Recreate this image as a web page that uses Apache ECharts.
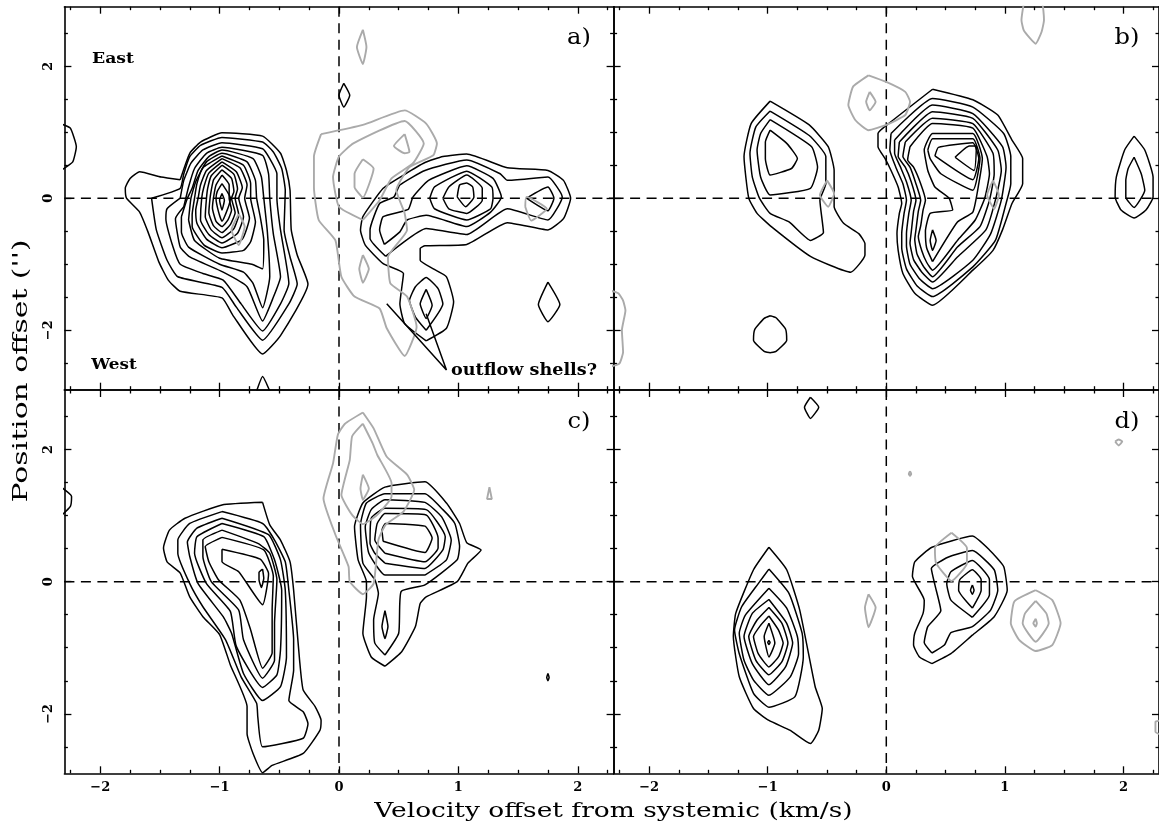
<!DOCTYPE html>
<html>
<head>
<meta charset="utf-8">
<title>Position-velocity contours</title>
<script src="https://cdn.jsdelivr.net/npm/echarts@6/dist/echarts.min.js"></script>
<style>
html, body { margin: 0; padding: 0; background: #fff; overflow: hidden; }
#chart { width: 1159px; height: 830px; }
</style>
</head>
<body>
<div id="chart"></div>
<script>
// tick positions
const xMajorTicks = [-2, -1, 0, 1, 2];
const xMinorTicks = [-2.25, -1.75, -1.5, -1.25, -0.75, -0.5, -0.25, 0.25, 0.5, 0.75, 1.25, 1.5, 1.75, 2.25];
const yMajorTicks = [-2, 0, 2];
const yMinorTicks = [-2.5, -1.5, -1, -0.5, 0.5, 1, 1.5, 2.5];

// contours are [velocity km/s, position arcsec]
const panelABlack = [
  [[-1.33,.28],[-1.49,.32],[-1.67,.40],[-1.75,.30],[-1.79,.15],[-1.78,0],[-1.67,-.21],[-1.60,-.51],[-1.51,-.96],[-1.43,-1.24],[-1.33,-1.41],[-.98,-1.51],[-.89,-1.77],[-.64,-2.36],[-.49,-2.08],[-.26,-1.30],[-.35,-.86],[-.40,-.48],[-.41,.12],[-.44,.42],[-.49,.68],[-.64,.94],[-.98,.99],[-1.16,.85],[-1.25,.68]],
  [[-1.57,0],[-1.33,.15],[-1.30,.37],[-1.25,.63],[-1.16,.80],[-.98,.92],[-.64,.85],[-.55,.70],[-.48,.45],[-.45,.12],[-.46,-.48],[-.41,-.89],[-.35,-1.30],[-.42,-1.60],[-.64,-2.15],[-.86,-1.65],[-.98,-1.35],[-1.35,-1.19],[-1.44,-.94],[-1.53,-.48]],
  [[-1.33,0],[-1.44,-.16],[-1.45,-.31],[-1.39,-.74],[-1.33,-1.0],[-1.14,-1.14],[-.97,-1.24],[-.82,-1.6],[-.64,-2.01],[-.49,-1.6],[-.42,-1.29],[-.49,-.48],[-.52,0],[-.52,.37],[-.58,.60],[-.64,.75],[-.98,.84],[-1.14,.73],[-1.24,.53],[-1.30,.27]],
  [[-1.30,-.13],[-1.37,-.31],[-1.33,-.74],[-1.25,-.89],[-.97,-1.12],[-.77,-1.34],[-.64,-1.86],[-.55,-1.5],[-.49,-1.19],[-.55,-.54],[-.58,0],[-.59,.37],[-.64,.65],[-.98,.77],[-1.11,.68],[-1.21,.45],[-1.26,.17]],
  [[-1.32,-.28],[-1.32,-.51],[-1.26,-.74],[-1.0,-1.0],[-.80,-1.12],[-.72,-1.29],[-.64,-1.66],[-.58,-1.19],[-.60,-.51],[-.63,0],[-.65,.32],[-.72,.6],[-.98,.73],[-1.09,.63],[-1.18,.42],[-1.23,.15],[-1.27,0]],
  [[-1.26,-.33],[-1.21,-.64],[-1.0,-.91],[-.73,-1.0],[-.64,-1.07],[-.63,-.64],[-.66,-.28],[-.69,0],[-.70,.27],[-.77,.55],[-.98,.68],[-1.11,.55],[-1.20,.25],[-1.24,0]],
  [[-.98,.64],[-.80,.50],[-.74,.22],[-.74,0],[-.70,-.36],[-.74,-.66],[-.80,-.79],[-.98,-.83],[-1.13,-.71],[-1.23,-.43],[-1.23,-.25],[-1.21,0],[-1.19,.22],[-1.14,.46]],
  [[-.98,.60],[-.83,.46],[-.77,.2],[-.79,0],[-.75,-.3],[-.81,-.62],[-.98,-.75],[-1.11,-.62],[-1.19,-.38],[-1.20,-.18],[-1.18,0],[-1.16,.2],[-1.11,.42]],
  [[-.98,.55],[-.86,.40],[-.81,.16],[-.84,0],[-.80,-.28],[-.85,-.53],[-.98,-.68],[-1.09,-.55],[-1.16,-.33],[-1.15,0],[-1.13,.18],[-1.09,.38]],
  [[-.98,.50],[-.88,.36],[-.85,.14],[-.87,0],[-.84,-.25],[-.88,-.46],[-.98,-.60],[-1.07,-.48],[-1.12,-.28],[-1.11,0],[-1.10,.15],[-1.07,.34]],
  [[-.98,.43],[-.90,.30],[-.88,.1],[-.90,0],[-.87,-.22],[-.91,-.40],[-.98,-.52],[-1.05,-.42],[-1.09,-.22],[-1.08,0],[-1.07,.12],[-1.05,.28]],
  [[-.98,.35],[-.92,.2],[-.92,0],[-.90,-.18],[-.93,-.33],[-.98,-.43],[-1.03,-.35],[-1.06,-.15],[-1.05,.02],[-1.03,.2]],
  [[-.98,.22],[-.93,.08],[-.91,0],[-.93,-.15],[-.98,-.35],[-1.01,-.2],[-1.03,0],[-1.02,.1]],
  [[-.98,.07],[-.96,-.03],[-.98,-.18],[-1.0,-.03]],
  [[.73,-2.16],[.90,-1.97],[.96,-1.57],[.90,-1.19],[.79,-1.07],[.68,-.94],[.68,-.76],[.72,-.72],[1.07,-.70],[1.41,-.37],[1.75,-.48],[1.88,-.31],[1.94,0],[1.88,.27],[1.75,.42],[1.41,.46],[1.07,.67],[.87,.63],[.72,.54],[.54,.35],[.37,.15],[.20,-.28],[.18,-.48],[.22,-.71],[.37,-.99],[.54,-1.14],[.51,-1.60],[.55,-1.90]],
  [[.39,-.88],[.26,-.61],[.26,-.48],[.34,-.08],[.46,.02],[.51,.20],[.72,.42],[1.07,.58],[1.35,.37],[1.41,.27],[1.75,.32],[1.87,.02],[1.75,-.33],[1.41,-.16],[1.07,-.55],[.73,-.46]],
  [[.38,-.70],[.34,-.48],[.37,-.28],[.58,-.17],[.62,.02],[.75,.27],[1.07,.49],[1.29,.30],[1.36,.02],[1.27,-.21],[1.07,-.43],[.73,-.26],[.57,-.33],[.51,-.51]],
  [[.76,0],[.80,.17],[1.07,.41],[1.28,.17],[1.29,0],[1.27,-.16],[1.07,-.33],[.80,-.16]],
  [[.87,0],[.92,.17],[1.07,.35],[1.20,.15],[1.20,-.03],[1.07,-.23],[.92,-.16]],
  [[.99,.02],[1.01,.20],[1.07,.23],[1.12,.17],[1.13,.02],[1.06,-.13]],
  [[1.57,0],[1.75,.17],[1.80,0],[1.75,-.19]],
  [[.73,-2.0],[.87,-1.60],[.83,-1.37],[.73,-1.20],[.64,-1.34],[.59,-1.55],[.64,-1.80]],
  [[.73,-1.38],[.78,-1.62],[.73,-1.82],[.68,-1.60]],
  [[1.75,-1.27],[1.85,-1.61],[1.75,-1.87],[1.67,-1.61]],
  [[.04,1.74],[.09,1.56],[.04,1.38],[0,1.56]],
  [[-2.32,1.12],[-2.25,1.06],[-2.20,.78],[-2.23,.55],[-2.32,.43]],
  [[-.69,-2.92],[-.64,-2.70],[-.58,-2.92]]
];
const panelAGray = [
  [[-.15,.97],[.20,1.11],[.55,1.33],[.73,1.13],[.82,.83],[.79,.65],[.59,.47],[.48,.12],[.55,-.23],[.57,-.48],[.41,-.89],[.43,-1.29],[.57,-1.49],[.65,-1.95],[.55,-2.39],[.40,-1.97],[.34,-1.67],[.13,-1.49],[.02,-1.19],[-.03,-.64],[-.17,-.33],[-.21,.17],[-.21,.63]],
  [[.20,-.33],[0,-.13],[-.05,.32],[0,.63],[.12,.83],[.55,1.17],[.71,.83],[.62,.53],[.44,.30],[.34,-.03]],
  [[.55,.97],[.59,.70],[.55,.68],[.46,.79]],
  [[.20,.59],[.29,.45],[.20,.01],[.13,.17],[.13,.37]],
  [[.20,-.86],[.25,-1.07],[.20,-1.28],[.17,-1.07]],
  [[.20,2.55],[.23,2.29],[.20,2.03],[.15,2.29]],
  [[1.56,-.13],[1.61,-.34],[1.74,-.16],[1.57,.02]],
  [[-.84,-.24],[-.79,-.43],[-.84,-.71],[-.90,-.48]]
];
const outflowPointer = [[.40,-1.60],[.90,-2.60],[.73,-1.75]];

const panelBBlack = [
  [[-.98,1.47],[-.65,1.11],[-.49,.78],[-.44,.42],[-.44,-.13],[-.36,-.38],[-.23,-.54],[-.18,-.69],[-.18,-.86],[-.30,-1.12],[-.64,-.88],[-.97,-.43],[-1.09,-.23],[-1.16,0],[-1.20,.63],[-1.14,1.13]],
  [[-.98,1.32],[-.65,.95],[-.51,.63],[-.51,.22],[-.56,-.03],[-.53,-.52],[-.64,-.64],[-.82,-.36],[-.98,-.23],[-1.07,0],[-1.13,.32],[-1.15,.68],[-1.10,1.08]],
  [[-.98,1.19],[-.63,.78],[-.58,.47],[-.64,.15],[-.98,.05],[-1.06,.32],[-1.09,.73],[-1.06,.98]],
  [[-.98,1.03],[-.84,.83],[-.75,.60],[-.80,.45],[-.98,.35],[-1.02,.60],[-1.02,.85]],
  [[.39,1.65],[.73,1.49],[.94,1.26],[1.06,.88],[1.15,.60],[1.15,.22],[1.06,-.08],[.98,-.48],[.90,-.79],[.73,-1.09],[.39,-1.62],[.24,-1.44],[.14,-1.14],[.10,-.79],[.09,-.54],[.11,-.23],[.13,-.08],[.10,.17],[.04,.42],[-.01,.60],[-.07,.78],[-.07,.98],[.02,1.13]],
  [[.04,.98],[.39,1.51],[.73,1.38],[.99,.98],[1.05,.63],[1.05,.22],[1.01,-.08],[.92,-.64],[.73,-1.04],[.39,-1.49],[.26,-1.33],[.17,-1.07],[.13,-.75],[.13,-.54],[.15,-.23],[.17,-.03],[.14,.22],[.08,.47],[.03,.73]],
  [[.07,.88],[.39,1.41],[.73,1.28],[.98,.78],[1.01,.47],[.97,-.03],[.88,-.54],[.73,-.94],[.39,-1.37],[.28,-1.22],[.20,-1.0],[.17,-.72],[.17,-.54],[.19,-.23],[.21,-.03],[.17,.25],[.12,.47],[.07,.68]],
  [[.11,.85],[.39,1.31],[.73,1.21],[.94,.73],[.97,.42],[.92,-.03],[.84,-.48],[.60,-.89],[.39,-1.27],[.30,-1.12],[.23,-.93],[.20,-.68],[.21,-.52],[.23,-.2],[.25,-.03],[.21,.25],[.16,.47],[.10,.63]],
  [[.16,.85],[.39,1.21],[.73,1.13],[.90,.68],[.91,.37],[.87,-.03],[.79,-.43],[.60,-.74],[.39,-1.19],[.32,-1.05],[.26,-.85],[.24,-.62],[.25,-.48],[.27,-.2],[.29,-.03],[.25,.22],[.20,.47],[.14,.63]],
  [[.20,.78],[.39,1.13],[.73,1.06],[.85,.63],[.87,.37],[.83,0],[.75,-.33],[.60,-.64],[.39,-1.09],[.34,-.97],[.30,-.8],[.27,-.58],[.29,-.42],[.31,-.18],[.33,-.03],[.29,.22],[.23,.47],[.18,.58]],
  [[.39,-.96],[.34,-.75],[.33,-.5],[.37,-.23],[.56,-.18],[.53,0],[.41,.17],[.35,.42],[.32,.73],[.39,.98],[.73,.98],[.81,.60],[.78,.22],[.73,-.21],[.60,-.36]],
  [[.35,.73],[.39,.90],[.73,.90],[.79,.60],[.73,.12],[.46,.37],[.37,.60]],
  [[.41,.64],[.44,.77],[.73,.84],[.78,.60],[.73,.28]],
  [[.58,.62],[.70,.79],[.76,.79],[.74,.42]],
  [[.39,-.48],[.42,-.64],[.39,-.79],[.37,-.64]],
  [[-.98,-1.78],[-.93,-1.81],[-.85,-1.98],[-.84,-2.15],[-.93,-2.32],[-.98,-2.34],[-1.03,-2.32],[-1.12,-2.15],[-1.11,-1.99],[-1.03,-1.82]],
  [[2.09,.94],[2.18,.73],[2.25,.32],[2.25,.02],[2.19,-.18],[2.09,-.30],[1.98,-.18],[1.93,.02],[1.94,.32],[2.01,.73]],
  [[2.09,.62],[2.15,.37],[2.18,.12],[2.09,-.14],[2.02,.02],[2.02,.27],[2.04,.45]]
];
const panelBGray = [
  [[-.15,1.86],[0,1.76],[.16,1.61],[.2,1.46],[.16,1.26],[0,1.11],[-.15,1.03],[-.26,1.18],[-.32,1.41],[-.28,1.69]],
  [[-.14,1.61],[-.09,1.46],[-.14,1.33],[-.17,1.46]],
  [[.9,.27],[.95,.05],[.91,-.16],[.85,.05]],
  [[-.5,.27],[-.44,.07],[-.49,-.13],[-.56,.05]],
  [[1.16,2.96],[1.14,2.70],[1.16,2.54],[1.26,2.34],[1.31,2.52],[1.33,2.70],[1.31,2.96]],
  [[-2.32,-1.40],[-2.26,-1.44],[-2.22,-1.55],[-2.20,-1.70],[-2.23,-2.0],[-2.22,-2.33],[-2.25,-2.50],[-2.32,-2.55]]
];

const panelCBlack = [
  [[-.64,1.20],[-.98,1.16],[-1.29,.96],[-1.42,.78],[-1.47,.51],[-1.44,.30],[-1.33,.13],[-1.25,-.23],[-1.14,-.53],[-1.0,-.80],[-.91,-1.26],[-.77,-1.89],[-.77,-2.30],[-.72,-2.60],[-.64,-2.89],[-.56,-2.78],[-.30,-2.60],[-.16,-2.25],[-.15,-2.10],[-.20,-1.89],[-.30,-1.64],[-.33,-1.19],[-.38,-.13],[-.41,.30],[-.49,.63],[-.58,.86]],
  [[-.98,1.06],[-1.25,.88],[-1.35,.63],[-1.35,.43],[-1.25,-.03],[-1.14,-.38],[-.95,-.88],[-.82,-1.44],[-.69,-1.84],[-.68,-2.05],[-.64,-2.5],[-.30,-2.37],[-.26,-2.15],[-.30,-1.97],[-.42,-1.80],[-.38,-1.34],[-.38,-.88],[-.42,-.13],[-.45,.30],[-.54,.63],[-.64,.88]],
  [[-.98,.96],[-1.19,.81],[-1.27,.6],[-1.25,.38],[-1.18,-.03],[-.97,-.53],[-.90,-.78],[-.80,-1.39],[-.64,-1.8],[-.49,-1.59],[-.44,-1.14],[-.45,-.13],[-.49,.33],[-.59,.71]],
  [[-.98,.88],[-1.19,.68],[-1.21,.43],[-1.11,-.03],[-.91,-.45],[-.86,-.98],[-.64,-1.6],[-.52,-1.41],[-.49,-1.03],[-.48,-.13],[-.54,.33],[-.63,.68]],
  [[-.98,.78],[-1.14,.63],[-1.14,.38],[-1.07,0],[-.84,-.43],[-.80,-.88],[-.64,-1.46],[-.54,-1.19],[-.54,-.63],[-.52,.03],[-.58,.43],[-.68,.58]],
  [[-.98,.67],[-1.12,.53],[-1.09,.30],[-1.01,.03],[-.83,-.28],[-.74,-.73],[-.64,-1.31],[-.56,-1.08],[-.56,-.43],[-.55,.08],[-.63,.48]],
  [[-.98,.49],[-.66,.34],[-.59,.12],[-.64,-.35],[-.84,.15],[-.98,.30]],
  [[-.64,.19],[-.63,.05],[-.65,-.09],[-.67,.03],[-.67,.14]],
  [[.385,-1.28],[.525,-1.06],[.64,-.68],[.68,-.33],[.73,-.23],[.99,0],[1.08,.28],[1.19,.48],[1.07,.59],[1.01,.88],[.90,1.19],[.72,1.51],[.385,1.43],[.20,1.19],[.13,.83],[.16,.33],[.23,0],[.23,-.23],[.20,-.78],[.27,-1.14]],
  [[.385,-1.11],[.50,-.78],[.52,-.15],[.72,-.05],[.99,.33],[1.01,.53],[.97,.88],[.87,1.09],[.72,1.33],[.385,1.33],[.23,1.19],[.18,.86],[.20,.28],[.30,.03],[.33,-.18],[.29,-.58],[.30,-.93]],
  [[.72,.10],[.385,.10],[.25,.43],[.22,.83],[.27,1.09],[.385,1.24],[.72,1.20],[.86,.98],[.94,.63],[.90,.33]],
  [[.385,.28],[.72,.20],[.87,.48],[.89,.68],[.73,1.09],[.385,1.11],[.27,.96],[.26,.58],[.30,.43]],
  [[.385,.43],[.72,.30],[.83,.51],[.83,.66],[.73,1.01],[.385,1.03],[.32,.88],[.30,.63]],
  [[.37,.61],[.72,.44],[.78,.66],[.72,.84],[.39,.88],[.36,.78]],
  [[.385,-.44],[.41,-.68],[.385,-.86],[.36,-.68]],
  [[1.75,-1.39],[1.76,-1.45],[1.75,-1.50],[1.74,-1.45]],
  [[-2.32,1.42],[-2.24,1.29],[-2.25,1.14],[-2.32,1.01]]
];
const panelCGray = [
  [[.20,2.56],[.05,2.39],[-.01,2.22],[-.05,1.79],[-.13,1.26],[-.03,.71],[.08,.23],[.09,0],[.20,-.19],[.29,-.03],[.33,.63],[.39,.86],[.54,1.06],[.63,1.39],[.57,1.62],[.40,1.89],[.29,2.32]],
  [[.20,2.39],[.11,2.20],[.09,1.84],[.02,1.31],[.11,1.01],[.20,.87],[.32,1.01],[.44,1.29],[.44,1.49],[.32,1.92],[.28,2.10]],
  [[.20,1.62],[.25,1.41],[.20,1.24],[.18,1.41]],
  [[1.26,1.43],[1.28,1.25],[1.24,1.25]]
];

const panelDBlack = [
  [[-.99,.52],[-.84,.18],[-.73,-.43],[-.60,-1.59],[-.54,-1.92],[-.57,-2.25],[-.64,-2.45],[-.81,-2.25],[-.99,-2.10],[-1.12,-1.92],[-1.24,-1.44],[-1.29,-.83],[-1.27,-.48],[-1.12,.18]],
  [[-.99,.19],[-.82,-.18],[-.71,-.78],[-.70,-1.14],[-.77,-1.74],[-.99,-1.90],[-1.12,-1.69],[-1.24,-1.09],[-1.28,-.73],[-1.22,-.38],[-1.08,-.03]],
  [[-.99,-.10],[-.84,-.40],[-.75,-.83],[-.74,-1.09],[-.81,-1.44],[-.99,-1.72],[-1.12,-1.49],[-1.20,-1.19],[-1.24,-.78],[-1.19,-.51]],
  [[-.99,-.27],[-.84,-.63],[-.79,-.93],[-.85,-1.29],[-.99,-1.56],[-1.13,-1.24],[-1.20,-.83],[-1.13,-.48]],
  [[-.99,-.39],[-.88,-.63],[-.83,-.93],[-.88,-1.21],[-.99,-1.41],[-1.10,-1.19],[-1.16,-.83],[-1.09,-.58]],
  [[-.99,-.52],[-.91,-.73],[-.87,-.93],[-.91,-1.14],[-.99,-1.29],[-1.08,-1.09],[-1.12,-.83],[-1.06,-.66]],
  [[-.99,-.63],[-.94,-.93],[-.99,-1.14],[-1.03,-.83]],
  [[-.99,-.89],[-.98,-.92],[-.99,-.95],[-1.0,-.92]],
  [[.385,-1.24],[.545,-1.09],[.726,-.81],[.91,-.53],[1.02,-.13],[.99,.23],[.87,.48],[.726,.69],[.385,.52],[.24,.30],[.22,.08],[.32,-.28],[.31,-.48],[.24,-.78],[.23,-.96],[.28,-1.14]],
  [[.385,-1.08],[.49,-.96],[.545,-.77],[.726,-.68],[.88,-.43],[.94,-.13],[.91,.18],[.726,.47],[.52,.37],[.38,.20],[.41,-.05],[.46,-.44],[.35,-.68],[.32,-.92]],
  [[.726,-.54],[.87,-.20],[.87,.03],[.726,.32],[.545,.15],[.51,-.03],[.545,-.28]],
  [[.726,-.40],[.80,-.13],[.80,.03],[.726,.18],[.62,.03],[.61,-.13]],
  [[.726,-.05],[.74,-.13],[.726,-.19],[.71,-.13]],
  [[-.64,2.79],[-.57,2.64],[-.64,2.47],[-.69,2.64]]
];
const panelDGray = [
  [[.55,.74],[.68,.51],[.68,.28],[.55,.01],[.42,.28],[.41,.51]],
  [[-.15,-.19],[-.09,-.39],[-.15,-.69],[-.18,-.39]],
  [[1.26,-.13],[1.40,-.28],[1.47,-.63],[1.40,-.96],[1.26,-1.05],[1.12,-.88],[1.05,-.63],[1.08,-.30]],
  [[1.26,-.29],[1.35,-.48],[1.37,-.63],[1.26,-.91],[1.15,-.63],[1.17,-.48]],
  [[1.26,-.56],[1.27,-.63],[1.26,-.68],[1.24,-.63]],
  [[.20,1.67],[.21,1.63],[.20,1.60],[.19,1.63]],
  [[1.93,2.12],[1.96,2.15],[1.99,2.12],[1.96,2.06]],
  [[2.32,-2.10],[2.27,-2.12],[2.27,-2.27],[2.32,-2.32]]
];

const BLACK = '#000';
const GRAY = '#aaa';
const SERIF = '"DejaVu Serif", serif';

const panels = [
  {black: panelABlack, gray: panelAGray, left: 64.4, top: 6.7, height: 383},
  {black: panelBBlack, gray: panelBGray, left: 613.6, top: 6.7, height: 383},
  {black: panelCBlack, gray: panelCGray, left: 64.4, top: 390, height: 383.3},
  {black: panelDBlack, gray: panelDGray, left: 613.6, top: 390, height: 383.3}
];

function closed(c) {
  return c.concat([c[0]]);
}

function lineSeries(i, data, color, width, dash, smooth) {
  return {
    type: 'line', xAxisIndex: i * 4, yAxisIndex: i * 4, data: data,
    showSymbol: false, silent: true, animation: false, clip: true,
    smooth: smooth || false,
    lineStyle: {color: color, width: width, type: dash || 'solid'}
  };
}

let grids = [], xAxes = [], yAxes = [], series = [];

panels.forEach((p, i) => {
  grids.push({left: p.left, top: p.top, width: 549.2, height: p.height, containLabel: false});
  ['bottom', 'top'].forEach(pos => {
    [[xMajorTicks, 7], [xMinorTicks, 3.5]].forEach(([ticks, len], k) => {
      let labelled = pos === 'bottom' && k === 0 && i >= 2;
      xAxes.push({
        type: 'value', gridIndex: i, position: pos, min: -2.3, max: 2.3,
        splitLine: {show: false},
        axisLine: {show: k === 0, onZero: false, lineStyle: {color: BLACK, width: 1.6}},
        axisTick: {show: true, inside: true, length: len, customValues: ticks, lineStyle: {color: BLACK, width: 1.3}},
        axisLabel: {
          show: labelled, customValues: ticks, margin: 8,
          fontFamily: SERIF, fontWeight: 'bold', fontSize: 13, color: BLACK,
          formatter: v => String(v).replace('-', '\u2212')
        }
      });
    });
  });
  ['left', 'right'].forEach(pos => {
    [[yMajorTicks, 7], [yMinorTicks, 3.5]].forEach(([ticks, len], k) => {
      let labelled = pos === 'left' && k === 0 && i % 2 === 0;
      yAxes.push({
        type: 'value', gridIndex: i, position: pos, min: -2.9, max: 2.9,
        splitLine: {show: false},
        axisLine: {show: k === 0, onZero: false, lineStyle: {color: BLACK, width: 1.6}},
        axisTick: {show: true, inside: true, length: len, customValues: ticks, lineStyle: {color: BLACK, width: 1.3}},
        axisLabel: {
          show: labelled, customValues: ticks, margin: 9, rotate: 90,
          fontFamily: SERIF, fontWeight: 'bold', fontSize: 13, color: BLACK,
          formatter: v => String(v).replace('-', '\u2212')
        }
      });
    });
  });
  // zero lines
  series.push(lineSeries(i, [[-2.3, 0], [2.3, 0]], BLACK, 1.5, [10, 6.5]));
  series.push(lineSeries(i, [[0, 2.9], [0, -2.9]], BLACK, 1.5, [10, 6.5]));
  p.black.forEach(c => series.push(lineSeries(i, closed(c), BLACK, 1.5, null, 0.15)));
  p.gray.forEach(c => series.push(lineSeries(i, closed(c), GRAY, 1.9, null, 0.15)));
});
series.push(lineSeries(0, outflowPointer, BLACK, 1.5));

function label(text, x, y, size, scaleX, weight, rotation) {
  return {
    type: 'text', x: x, y: y, silent: true, z: 10,
    rotation: rotation || 0, scaleX: scaleX || 1,
    style: {
      text: text, fontFamily: SERIF, fontSize: size, fontWeight: weight || 'normal',
      fill: BLACK, align: 'center', verticalAlign: 'middle'
    }
  };
}

const chart = echarts.init(document.getElementById('chart'));
chart.setOption({
  backgroundColor: '#fff',
  animation: false,
  grid: grids,
  xAxis: xAxes,
  yAxis: yAxes,
  series: series,
  graphic: [
    label('a)', 579, 38, 22, 1.1),
    label('b)', 1127, 38, 22, 1.1),
    label('c)', 579, 422, 22, 1.1),
    label('d)', 1127, 422, 22, 1.1),
    label('East', 113, 59, 15, 1.15, 'bold'),
    label('West', 114, 365, 15, 1.12, 'bold'),
    label('outflow shells?', 524, 371, 16, 1.1, 'bold'),
    label('Velocity offset from systemic (km/s)', 613.5, 812, 21, 1.26),
    label("Position offset ('')", 22, 371, 21, 1.42, 'normal', Math.PI / 2)
  ]
});
</script>
</body>
</html>
